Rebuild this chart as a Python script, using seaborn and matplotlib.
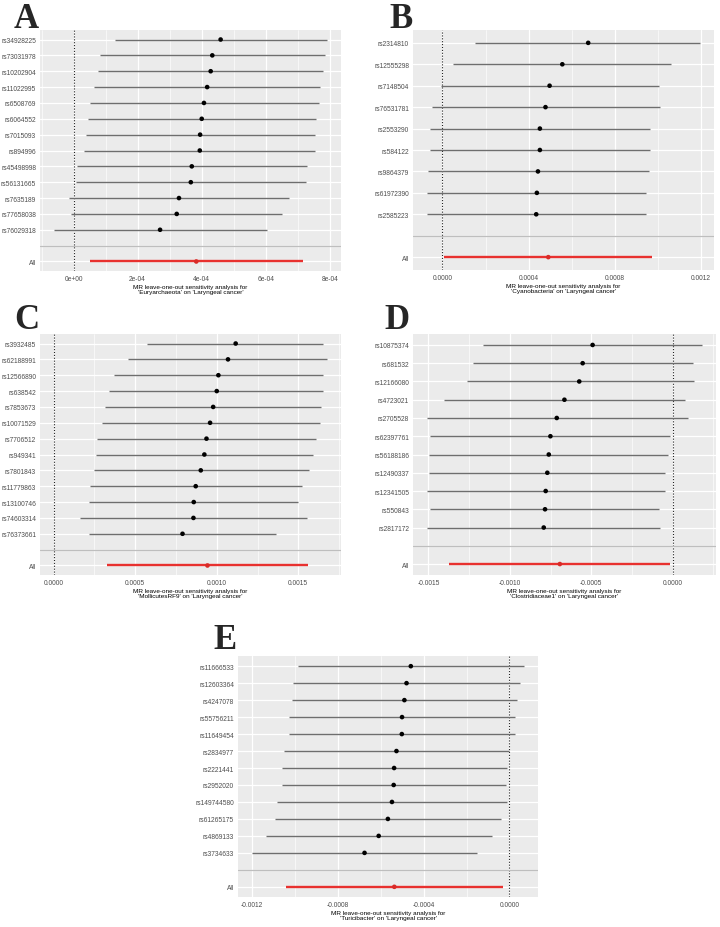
import numpy as np
import pandas as pd
import matplotlib
matplotlib.use("Agg")
import matplotlib.pyplot as plt
import seaborn as sns
from matplotlib.ticker import MultipleLocator, FuncFormatter

# Panel A - Euryarchaeota
a_snps = ["rs34928225", "rs73031978", "rs10202904", "rs11022995", "rs6508769", "rs6064552",
          "rs7015093", "rs894996", "rs45498998", "rs56131665", "rs7635189", "rs77658038", "rs76029318"]
a_b = [4.59e-4, 4.33e-4, 4.28e-4, 4.17e-4, 4.07e-4, 4.00e-4, 3.95e-4, 3.94e-4, 3.69e-4, 3.66e-4, 3.29e-4, 3.22e-4, 2.70e-4]
a_lo = [1.29e-4, 0.83e-4, 0.77e-4, 0.64e-4, 0.50e-4, 0.44e-4, 0.38e-4, 0.33e-4, 0.12e-4, 0.09e-4, -0.14e-4, -0.08e-4, -0.62e-4]
a_hi = [7.92e-4, 7.84e-4, 7.79e-4, 7.69e-4, 7.66e-4, 7.58e-4, 7.52e-4, 7.54e-4, 7.29e-4, 7.24e-4, 6.72e-4, 6.52e-4, 6.05e-4]
a_all = [3.83e-4, 0.52e-4, 7.17e-4]

# Panel B - Cyanobacteria
b_snps = ["rs2314810", "rs12555298", "rs7148504", "rs76531781", "rs2553290", "rs584122",
          "rs9864379", "rs61972390", "rs2585223"]
b_b = [6.76e-4, 5.56e-4, 4.97e-4, 4.78e-4, 4.52e-4, 4.52e-4, 4.43e-4, 4.38e-4, 4.35e-4]
b_lo = [1.51e-4, 0.51e-4, -0.08e-4, -0.49e-4, -0.57e-4, -0.57e-4, -0.69e-4, -0.71e-4, -0.73e-4]
b_hi = [11.96e-4, 10.62e-4, 10.03e-4, 10.08e-4, 9.61e-4, 9.61e-4, 9.60e-4, 9.46e-4, 9.44e-4]
b_all = [4.91e-4, 0.08e-4, 9.72e-4]

# Panel C - MollicutesRF9
c_snps = ["rs3932485", "rs62188991", "rs12566890", "rs638542", "rs7853673", "rs10071529", "rs7706512",
          "rs949341", "rs7801843", "rs11779863", "rs13100746", "rs74603314", "rs76373661"]
c_b = [11.16e-4, 10.69e-4, 10.10e-4, 10.00e-4, 9.78e-4, 9.59e-4, 9.37e-4, 9.24e-4, 9.02e-4, 8.71e-4, 8.59e-4, 8.57e-4, 7.90e-4]
c_lo = [5.71e-4, 4.57e-4, 3.67e-4, 3.39e-4, 3.12e-4, 2.94e-4, 2.65e-4, 2.59e-4, 2.45e-4, 2.22e-4, 2.18e-4, 1.63e-4, 2.18e-4]
c_hi = [16.53e-4, 16.78e-4, 16.51e-4, 16.53e-4, 16.41e-4, 16.31e-4, 16.06e-4, 15.92e-4, 15.65e-4, 15.24e-4, 15.00e-4, 15.55e-4, 13.61e-4]
c_all = [9.43e-4, 3.27e-4, 15.61e-4]

# Panel D - Clostridiaceae1
d_snps = ["rs10875374", "rs681532", "rs12166080", "rs4723021", "rs2705528", "rs62397761",
          "rs56188186", "rs12490337", "rs12341505", "rs550843", "rs2817172"]
d_b = [-4.92e-4, -5.53e-4, -5.74e-4, -6.65e-4, -7.12e-4, -7.51e-4, -7.61e-4, -7.70e-4, -7.80e-4, -7.84e-4, -7.92e-4]
d_lo = [-11.67e-4, -12.24e-4, -12.65e-4, -14.03e-4, -15.10e-4, -14.90e-4, -14.94e-4, -14.96e-4, -15.06e-4, -14.88e-4, -15.06e-4]
d_hi = [1.81e-4, 1.23e-4, 1.30e-4, 0.78e-4, 0.93e-4, -0.14e-4, -0.27e-4, -0.45e-4, -0.49e-4, -0.82e-4, -0.76e-4]
d_all = [-6.93e-4, -13.72e-4, -0.14e-4]

# Panel E - Turicibacter
e_snps = ["rs11666533", "rs12603364", "rs4247078", "rs55756211", "rs11649454", "rs2834977",
          "rs2221441", "rs2952020", "rs149744580", "rs61265175", "rs4869133", "rs3734633"]
e_b = [-4.60e-4, -4.80e-4, -4.90e-4, -5.01e-4, -5.02e-4, -5.27e-4, -5.38e-4, -5.40e-4, -5.48e-4, -5.67e-4, -6.10e-4, -6.76e-4]
e_lo = [-9.86e-4, -10.08e-4, -10.16e-4, -10.28e-4, -10.28e-4, -10.52e-4, -10.63e-4, -10.63e-4, -10.83e-4, -10.94e-4, -11.38e-4, -12.03e-4]
e_hi = [0.70e-4, 0.49e-4, 0.36e-4, 0.28e-4, 0.25e-4, 0.0, -0.11e-4, -0.14e-4, -0.11e-4, -0.38e-4, -0.81e-4, -1.52e-4]
e_all = [-5.37e-4, -10.41e-4, -0.31e-4]

sns.set_theme(style="darkgrid", rc={"axes.facecolor": "#EBEBEB", "grid.color": "white"})
plt.rcParams["font.family"] = ["Liberation Sans", "DejaVu Sans"]

fig = plt.figure(figsize=(7.2, 9.28), dpi=100)
W, H = 720, 928


def add_axes_px(left, top, right, bottom):
    return fig.add_axes([left / W, 1 - bottom / H, (right - left) / W, (bottom - top) / H])


def sci_fmt(v, pos):
    v = 0.0 if abs(v) < 1e-12 else v
    return f"{v:.0e}"


def dec_fmt(v, pos):
    v = 0.0 if abs(v) < 1e-12 else v
    return f"{v:.4f}"


def draw_panel(ax, snps, b, lo, hi, all_vals, exposure, step, fmt):
    labels = snps + ["", "All"]
    df = pd.DataFrame({
        "snp": labels,
        "b": b + [np.nan, all_vals[0]],
        "lo": lo + [np.nan, all_vals[1]],
        "hi": hi + [np.nan, all_vals[2]],
        "kind": ["snp"] * len(snps) + ["gap", "all"],
    })
    df["pos"] = np.arange(len(df))
    n = len(df)

    ax.axvline(0, color="#222222", linestyle=(0, (1, 1.6)), linewidth=0.8, zorder=2)
    snp_rows = df[df.kind == "snp"]
    all_row = df[df.kind == "all"]
    ax.hlines(snp_rows.pos, snp_rows.lo, snp_rows.hi, colors="#6E6E6E", linewidth=1.0, zorder=3)
    ax.hlines(all_row.pos, all_row.lo, all_row.hi, colors="#E8312F", linewidth=1.7, zorder=3)
    sns.scatterplot(data=df.dropna(), x="b", y="pos", hue="kind",
                    palette={"snp": "black", "all": "#D92B28"},
                    s=11, linewidth=0, legend=False, ax=ax, zorder=4)
    ax.axhline(len(snps), color="#BEBEBE", linewidth=0.9, zorder=2)

    # ggplot style limits: 5% expansion, zero line included
    xmin = min(min(lo), all_vals[1], 0.0)
    xmax = max(max(hi), all_vals[2], 0.0)
    pad = 0.05 * (xmax - xmin)
    ax.set_xlim(xmin - pad, xmax + pad)
    ax.set_ylim(n - 1 + 0.6, -0.6)

    ax.set_yticks(df.pos)
    ax.set_yticklabels(labels)
    ax.xaxis.set_major_locator(MultipleLocator(step))
    ax.xaxis.set_minor_locator(MultipleLocator(step / 2))
    ax.xaxis.set_major_formatter(FuncFormatter(fmt))
    ax.grid(which="major", color="white", linewidth=0.9)
    ax.grid(which="minor", axis="x", color="white", linewidth=0.45)
    ax.grid(which="minor", axis="y", visible=False)
    ax.tick_params(axis="both", which="major", labelsize=4.8, labelcolor="#4D4D4D",
                   length=1.6, width=0.5, color="#333333", pad=1.2)
    ax.tick_params(axis="both", which="minor", length=0)
    for sp in ax.spines.values():
        sp.set_visible(False)
    ax.set_ylabel("")
    ax.set_xlabel(f"MR leave-one-out sensitivity analysis for\n'{exposure}' on 'Laryngeal cancer'",
                  fontsize=4.6, labelpad=1.5, linespacing=1.0, color="black")


panels = [
    ("A", (40, 31, 341, 272), (14, 28), a_snps, a_b, a_lo, a_hi, a_all, "Euryarchaeota", 2e-4, sci_fmt),
    ("B", (413, 31, 714, 271), (389, 28), b_snps, b_b, b_lo, b_hi, b_all, "Cyanobacteria", 4e-4, dec_fmt),
    ("C", (40, 335, 341, 576), (14, 329), c_snps, c_b, c_lo, c_hi, c_all, "MollicutesRF9", 5e-4, dec_fmt),
    ("D", (413, 335, 716, 576), (384, 329), d_snps, d_b, d_lo, d_hi, d_all, "Clostridiaceae1", 5e-4, dec_fmt),
    ("E", (238, 657, 538, 898), (213, 649), e_snps, e_b, e_lo, e_hi, e_all, "Turicibacter", 4e-4, dec_fmt),
]

for letter, box, lpos, snps, b, lo, hi, all_vals, exposure, step, fmt in panels:
    ax = add_axes_px(*box)
    draw_panel(ax, snps, b, lo, hi, all_vals, exposure, step, fmt)
    fig.text(lpos[0] / W, 1 - lpos[1] / H, letter, fontsize=25, fontweight="bold",
             family=["Liberation Serif", "DejaVu Serif"], va="baseline", ha="left")

fig.savefig("out.png", dpi=100, facecolor="white")
